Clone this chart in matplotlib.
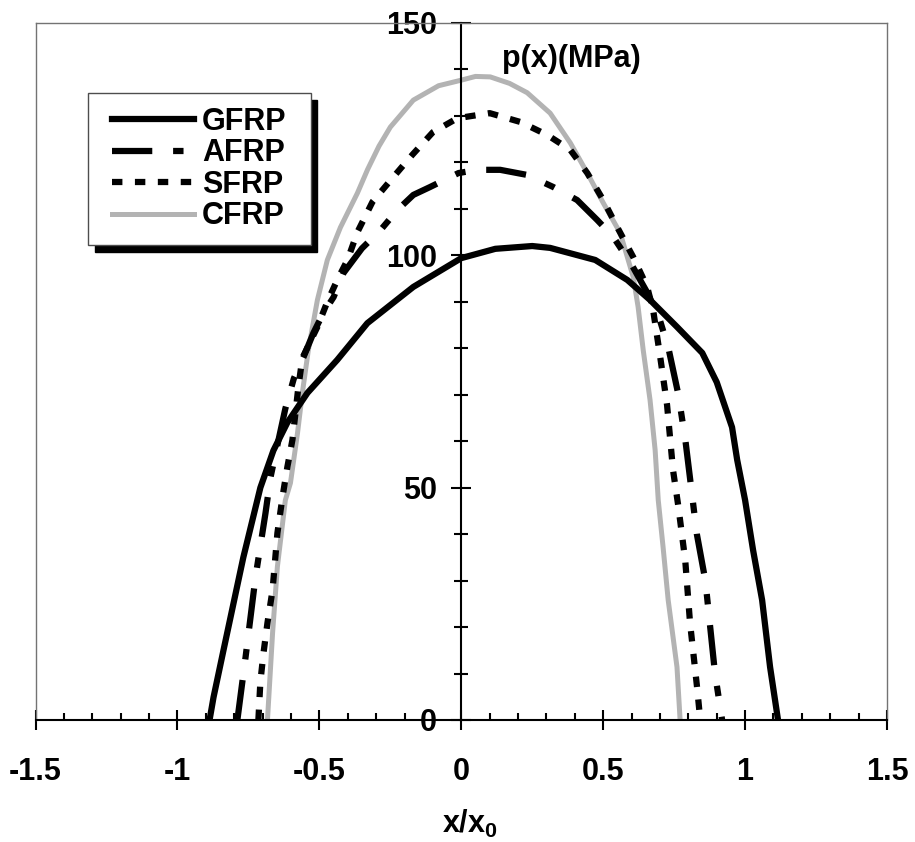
import numpy as np
import matplotlib
matplotlib.use('Agg')
import matplotlib.pyplot as plt
from matplotlib.path import Path
from matplotlib.ticker import MultipleLocator

# ---- data (x/x0, p in MPa) ----
gfrp_x = [-0.887, -0.873, -0.838, -0.768, -0.736, -0.708, -0.662, -0.613, -0.542, -0.437,
          -0.331, -0.169, 0.0, 0.12, 0.25, 0.313, 0.472, 0.585, 0.665, 0.76,
          0.849, 0.90, 0.954, 0.972, 1.0, 1.028, 1.06, 1.088, 1.116]
gfrp_p = [0, 4.9, 15, 35, 43, 50, 58, 64, 70.4, 77.5,
          85.4, 93.2, 99.4, 101.4, 102, 101.6, 99, 94.7, 90.4, 84.6,
          79, 72.7, 63, 56, 47.3, 36.6, 25.8, 11.4, 0]

afrp_x = [-0.789, -0.76, -0.725, -0.69, -0.672, -0.645, -0.62, -0.59, -0.556, -0.521,
          -0.486, -0.45, -0.415, -0.35, -0.285, -0.226, -0.169, -0.11, -0.01, 0.056,
          0.137, 0.232, 0.324, 0.408, 0.479, 0.535, 0.6, 0.655, 0.7, 0.73,
          0.765, 0.79, 0.81, 0.83, 0.86, 0.877, 0.894, 0.919]
afrp_p = [0, 13.6, 30.8, 44.5, 52.3, 60, 67, 73.5, 78.1, 83.3,
          87.6, 91, 96.2, 101.5, 105.4, 109.7, 113, 114.7, 117.7, 118.4,
          118.4, 117.3, 114.7, 111.9, 107.6, 104, 98, 92, 86, 80,
          70, 60, 50, 40, 30, 20, 10, 0]

sfrp_x = [-0.715, -0.708, -0.697, -0.683, -0.665, -0.648, -0.63, -0.613, -0.595, -0.574,
          -0.56, -0.507, -0.472, -0.437, -0.401, -0.366, -0.313, -0.243, -0.173, -0.1,
          -0.014, 0.1, 0.208, 0.303, 0.384, 0.444, 0.5, 0.55, 0.606, 0.655,
          0.676, 0.7, 0.725, 0.746, 0.764, 0.789, 0.806, 0.831, 0.842]
sfrp_p = [0, 8.2, 14.4, 20.9, 28, 40.2, 48, 54.4, 60.3, 71.7,
          77.9, 84.6, 90, 94.7, 99, 105, 111.5, 116.6, 121.6, 126.5,
          129.5, 130.6, 128.7, 125.9, 122.7, 117.7, 111.9, 106, 99.6, 93.2,
          88.2, 78.5, 67.8, 53.8, 46.3, 34.4, 20.9, 6.9, 0]

cfrp_x = [-0.683, -0.665, -0.648, -0.62, -0.602, -0.577, -0.56, -0.539, -0.507, -0.472,
          -0.426, -0.366, -0.33, -0.29, -0.25, -0.169, -0.08, 0.0, 0.05, 0.102,
          0.17, 0.232, 0.313, 0.384, 0.444, 0.5, 0.56, 0.606, 0.623, 0.641,
          0.665, 0.683, 0.694, 0.711, 0.729, 0.76, 0.771]
cfrp_p = [0, 18.7, 33, 47.3, 51, 61.8, 70.4, 79.6, 90.4, 99,
          106, 113.4, 118.5, 123.5, 127.6, 133.4, 136.5, 137.7, 138.5, 138.4,
          137, 135, 130.6, 124.2, 117.7, 111.3, 104.8, 95.3, 88.9, 79.6,
          68.9, 58.1, 47.3, 37.2, 25.8, 11.4, 0]

x_ticks = [-1.5, -1, -0.5, 0, 0.5, 1, 1.5]
x_labels = ['-1.5', '-1', '-0.5', '0', '0.5', '1', '1.5']
y_ticks = [0, 50, 100, 150]

plt.rcParams['font.family'] = ['Liberation Sans', 'DejaVu Sans']
plt.rcParams['font.weight'] = 'bold'
plt.rcParams['axes.unicode_minus'] = False
plt.rcParams['lines.scale_dashes'] = False
plt.rcParams['mathtext.fontset'] = 'custom'
plt.rcParams['mathtext.bf'] = 'Liberation Sans:bold'
plt.rcParams['mathtext.rm'] = 'Liberation Sans:bold'
plt.rcParams['mathtext.it'] = 'Liberation Sans:bold'

fs = 22

fig = plt.figure(figsize=(9.15, 8.42), dpi=100)
ax = fig.add_axes([0.0389, 0.1449, 0.9305, 0.8278])

# curves
ax.plot(cfrp_x, cfrp_p, color='0.7', lw=3.6, label='CFRP', zorder=2)
ax.plot(gfrp_x, gfrp_p, color='black', lw=4.5, label='GFRP', zorder=3)
ax.plot(afrp_x, afrp_p, color='black', lw=4.5, label='AFRP', zorder=3,
        linestyle=(0, (29, 15, 7.5, 15)))
ax.plot(sfrp_x, sfrp_p, color='black', lw=4.5, label='SFRP', zorder=3,
        linestyle=(0, (7.5, 9)))

ax.set_xlim(-1.5, 1.5)
ax.set_ylim(0, 150)

# axes through the origin, thin frame round the plot
ax.spines['left'].set_position(('data', 0))
ax.spines['left'].set_linewidth(1.5)
ax.spines['bottom'].set_linewidth(1.5)
for s in ['top', 'right']:
    ax.spines[s].set_color('0.45')
    ax.spines[s].set_linewidth(1.0)
ax.plot([0, 0], [0, 1], transform=ax.transAxes, color='0.45', lw=1.0, clip_on=False)

ax.set_xticks(x_ticks)
ax.set_xticklabels(x_labels)
ax.set_yticks(y_ticks)
ax.xaxis.set_minor_locator(MultipleLocator(0.1))
ax.yaxis.set_minor_locator(MultipleLocator(10))
ax.tick_params(axis='x', which='major', direction='inout', length=15, width=1.5,
               pad=19, labelsize=fs)
ax.tick_params(axis='x', which='minor', direction='in', length=5, width=1.5)
ax.tick_params(axis='y', which='major', direction='inout', length=15, width=1.5,
               pad=10, labelsize=fs)
ax.tick_params(axis='y', which='minor', direction='inout', length=10, width=1.5)

ax.text(0.145, 140.5, 'p(x)(MPa)', fontsize=fs, fontweight='bold',
        ha='left', va='baseline')
ax.set_xlabel(r'$\mathbf{x/x_0}$', fontsize=fs, labelpad=15)
ax.xaxis.label.set_x(0.51)


def wide_box(x0, y0, width, height, mutation_size):
    # legend frame with extra room left and right
    dx = 0.33 * mutation_size
    x0, x1 = x0 - dx, x0 + width + dx
    y1 = y0 + height
    return Path([(x0, y0), (x1, y0), (x1, y1), (x0, y1), (x0, y0)], closed=True)


h, l = ax.get_legend_handles_labels()
order = [1, 2, 3, 0]
leg = ax.legend([h[i] for i in order], [l[i] for i in order],
                loc='upper left', bbox_to_anchor=(0.0733, 0.8996), borderaxespad=0,
                fontsize=fs, handlelength=2.7, handletextpad=0.26, labelspacing=0.05,
                borderpad=0.45, fancybox=False, edgecolor='0.3', framealpha=1,
                shadow={'ox': 5, 'oy': -5, 'color': 'black', 'alpha': 1})
leg.get_frame().set_linewidth(1.0)
leg.get_frame().set_boxstyle(wide_box)

plt.savefig('out.png', dpi=100)
plt.close()
